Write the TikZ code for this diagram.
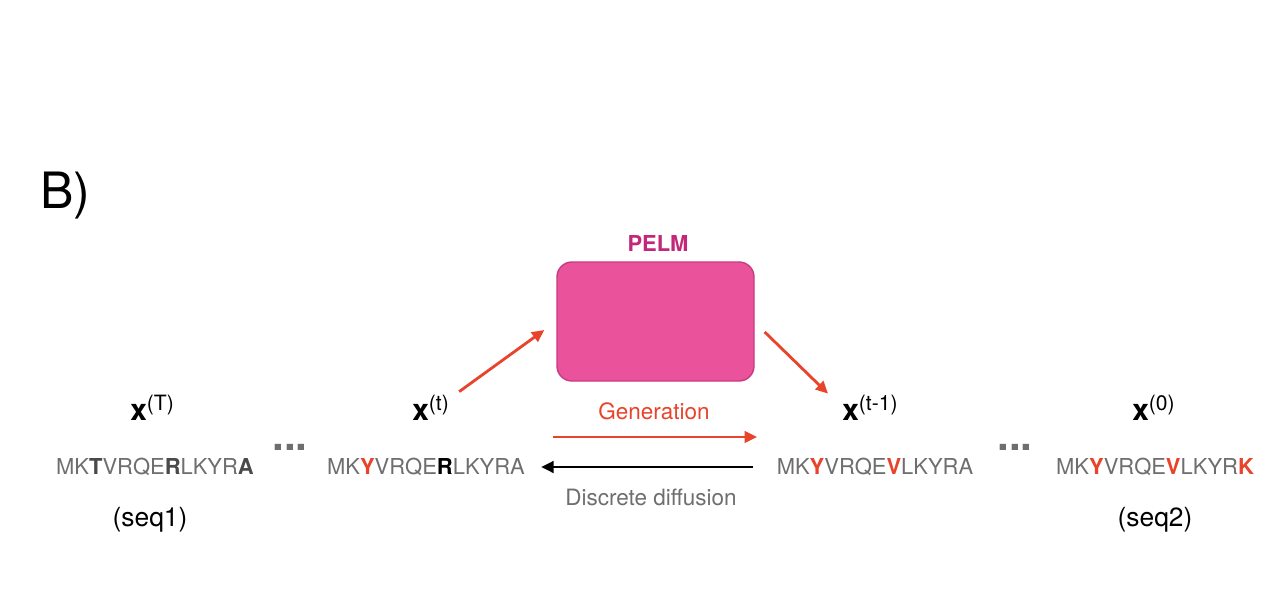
\documentclass[tikz,border=0pt]{standalone}
\usepackage{fontspec}
\setmainfont{TeX Gyre Heros}
\usetikzlibrary{arrows.meta}
\definecolor{genred}{HTML}{E8432B}
\definecolor{pelmfill}{HTML}{EA529C}
\definecolor{pelmline}{HTML}{C73B82}
\definecolor{pelmtext}{HTML}{C2277A}
\definecolor{seqgray}{HTML}{6E6E6E}
\definecolor{boldgray}{HTML}{4A4A4A}
\newcommand{\xstate}[1]{{\fontsize{17}{20}\selectfont\bfseries x}\raisebox{5.5pt}{\fontsize{12}{14}\selectfont(#1)}}
\newcommand{\gb}[1]{{\bfseries\color{boldgray}#1}}
\newcommand{\kb}[1]{{\bfseries\color{black}#1}}
\newcommand{\rb}[1]{{\bfseries\color{genred}#1}}
\begin{document}
\begin{tikzpicture}
[x=0.02cm,y=-0.02cm,
  statelabel/.style={anchor=base west,inner sep=0pt},%
  seqtext/.style={inner sep=0pt,text=seqgray,font=\fontsize{12.5}{15}\selectfont},%
  dotsdecorate/.style={inner sep=0pt,text=seqgray,font=\fontsize{24}{28}\selectfont\bfseries},%
  nametext/.style={inner sep=0pt,font=\fontsize{15}{18}\selectfont},%
  steptext/.style={inner sep=0pt,font=\fontsize{12.8}{15}\selectfont},%
  modelbox/.style={draw=pelmline,fill=pelmfill,line width=0.8pt,rounded corners=8.5pt,minimum width=197*0.02cm,minimum height=119*0.02cm,inner sep=0pt},%
  redarrow/.style={draw=genred,line width=1.6pt,-{Triangle[length=7pt,width=6.5pt]}},%
  blackarrow/.style={draw=black,line width=1.6pt,-{Triangle[length=7pt,width=6.5pt]}}]
\useasboundingbox (0,0) rectangle (1288,608);
% panel letter and model
\node (panel) [anchor=base west,inner sep=0pt,font=\fontsize{28.5}{32}\selectfont] at (40,208) {B)};
\node (pelm) [modelbox] at (655.5,321.5) {};
\node (pelmname) [inner sep=0pt,text=pelmtext,font=\fontsize{12.5}{15}\selectfont\bfseries] at (658,243) {PELM};
% states
\node (xT) [statelabel] at (130,420) {\xstate{T}};
\node (xt) [statelabel] at (412,420) {\xstate{t}};
\node (xtm) [statelabel] at (842,420) {\xstate{t-1}};
\node (x0) [statelabel] at (1132,420) {\xstate{0}};
% sequences
\node (seqT) [seqtext] at (155,467) {MK\gb{T}VRQE\gb{R}LKYR\gb{A}};
\node (seqt) [seqtext] at (426,467) {MK\rb{Y}VRQE\kb{R}LKYRA};
\node (seqtm) [seqtext] at (875,467) {MK\rb{Y}VRQE\rb{V}LKYRA};
\node (seq0) [seqtext] at (1155,467) {MK\rb{Y}VRQE\rb{V}LKYR\rb{K}};
\node (dotsL) [dotsdecorate] at (290,447) {...};
\node (dotsR) [dotsdecorate] at (1015,447) {...};
\node (seqone) [nametext] at (150,520) {(seq1)};
\node (seqtwo) [nametext] at (1155,520) {(seq2)};
% process labels
\node (gen) [steptext,text=genred] at (654,411) {Generation};
\node (diff) [steptext,text=seqgray] at (651,497) {Discrete diffusion};
\coordinate (genS) at (553,437);
\coordinate (genE) at (757,437);
% edges
\draw[redarrow] ([shift={(10,-3)}]xt.north east) -- ([shift={(-12,8.5)}]pelm.west);
\draw[redarrow] ([shift={(10,10.5)}]pelm.east) -- ([shift={(-14,-1)}]xtm.north west);
\draw[redarrow] (genS) -- (genE);
\draw[blackarrow,shorten <=23*0.02cm,shorten >=16*0.02cm] (seqtm.west) -- (seqt.east);
\end{tikzpicture}
\end{document}
